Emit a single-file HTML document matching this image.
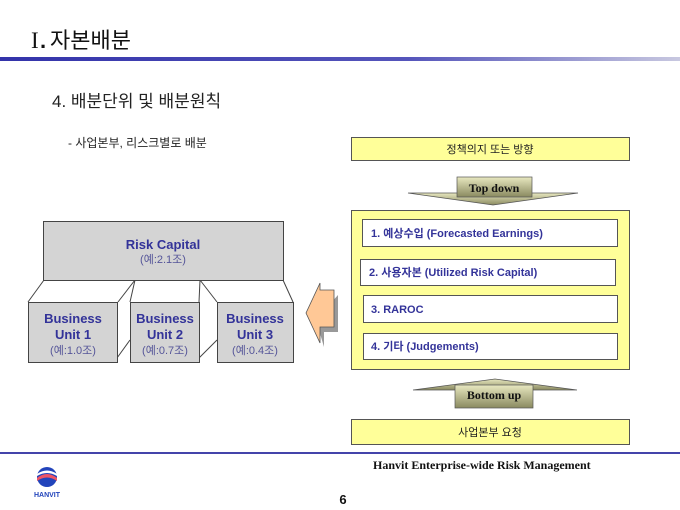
<!DOCTYPE html>
<html><head><meta charset="utf-8"><style>
html,body{margin:0;padding:0;background:#fff;width:680px;height:510px;overflow:hidden}
svg text{font-family:"Liberation Sans","Noto Sans CJK KR",sans-serif}
svg text.serif{font-family:"Liberation Serif",serif}
</style></head><body>
<svg width="680" height="510" viewBox="0 0 680 510" xmlns="http://www.w3.org/2000/svg">
<defs>
<linearGradient id="hl" x1="0" x2="1" y1="0" y2="0">
<stop offset="0" stop-color="#3333aa"/><stop offset="0.6" stop-color="#5555bb"/><stop offset="1" stop-color="#c8c8e0"/>
</linearGradient>
<linearGradient id="ag" x1="0" x2="0" y1="0" y2="1">
<stop offset="0" stop-color="#e8e8c0"/><stop offset="1" stop-color="#8a8a60"/>
</linearGradient>
</defs>
<text class="serif" x="31" y="48" font-size="23" fill="#111">I</text>
<text x="40" y="48" font-size="22" fill="#111" font-weight="bold">.</text>
<text x="50" y="48" font-size="22" fill="#111">자본배분</text>
<rect x="0" y="57" width="680" height="4" fill="url(#hl)"/>
<text x="52" y="107" font-size="17" fill="#222">4. 배분단위 및 배분원칙</text>
<text x="68" y="147" font-size="12" fill="#222">- 사업본부, 리스크별로 배분</text>

<g stroke="#444" stroke-width="1" fill="none">
<line x1="44" y1="280" x2="28" y2="302"/>
<line x1="135" y1="280" x2="130" y2="302"/>
<line x1="135" y1="280" x2="118" y2="302"/>
<line x1="200" y1="280" x2="217" y2="302"/>
<line x1="200" y1="280" x2="199" y2="302"/>
<line x1="283" y1="280" x2="293" y2="302"/>
<line x1="117" y1="358" x2="130" y2="340"/>
<line x1="199" y1="358" x2="217" y2="340"/>
</g>
<rect x="43.5" y="221.5" width="240" height="59" fill="#d4d4d4" stroke="#444"/>
<text x="163" y="249" font-size="13" font-weight="bold" fill="#333399" text-anchor="middle">Risk Capital</text>
<text x="163" y="263" font-size="11" fill="#555599" text-anchor="middle">(예:2.1조)</text>
<rect x="28.5" y="302.5" width="89" height="60" fill="#d4d4d4" stroke="#444"/>
<rect x="130.5" y="302.5" width="69" height="60" fill="#d4d4d4" stroke="#444"/>
<rect x="217.5" y="302.5" width="76" height="60" fill="#d4d4d4" stroke="#444"/>
<g font-size="13" font-weight="bold" fill="#333399" text-anchor="middle">
<text x="73" y="323">Business</text><text x="73" y="339">Unit 1</text>
<text x="165" y="323">Business</text><text x="165" y="339">Unit 2</text>
<text x="255" y="323">Business</text><text x="255" y="339">Unit 3</text>
</g>
<g font-size="11" fill="#555599" text-anchor="middle">
<text x="73" y="354">(예:1.0조)</text><text x="165" y="354">(예:0.7조)</text><text x="255" y="354">(예:0.4조)</text>
</g>
<polygon points="338,295 338,332 324,332 324,347 316,320" fill="#999"/>
<polygon points="334,290 334,327 320,327 320,343 306,313 320,283 320,290" fill="#ffc896" stroke="#555" stroke-width="0.8"/>

<rect x="351.5" y="137.5" width="278" height="23" fill="#ffff99" stroke="#555"/>
<text x="490" y="153" font-size="11" fill="#222" text-anchor="middle">정책의지 또는 방향</text>
<polygon points="408,193 578,193 493,205" fill="url(#ag)" stroke="#555" stroke-width="0.7"/>
<rect x="457" y="177" width="75" height="20" fill="url(#ag)" stroke="#555" stroke-width="0.7"/>
<text class="serif" x="494" y="192" font-size="12" font-weight="bold" fill="#111" text-anchor="middle">Top down</text>

<rect x="351.5" y="210.5" width="278" height="159" fill="#ffff99" stroke="#555"/>
<g fill="#fff" stroke="#555">
<rect x="362.5" y="219.5" width="255" height="27"/>
<rect x="360.5" y="259.5" width="255" height="26"/>
<rect x="363.5" y="295.5" width="254" height="27"/>
<rect x="363.5" y="333.5" width="254" height="26"/>
</g>
<g font-size="11" font-weight="bold" fill="#333399">
<text x="371" y="237">1. 예상수입 (Forecasted Earnings)</text>
<text x="369" y="276">2. 사용자본 (Utilized Risk Capital)</text>
<text x="371" y="313">3. RAROC</text>
<text x="371" y="350">4. 기타 (Judgements)</text>
</g>
<polygon points="413,390 577,390 495,379" fill="url(#ag)" stroke="#555" stroke-width="0.7"/>
<rect x="455" y="385" width="78" height="23" fill="url(#ag)" stroke="#555" stroke-width="0.7"/>
<text class="serif" x="494" y="399" font-size="12" font-weight="bold" fill="#111" text-anchor="middle">Bottom up</text>
<rect x="351.5" y="419.5" width="278" height="25" fill="#ffff99" stroke="#555"/>
<text x="490" y="436" font-size="11" fill="#222" text-anchor="middle">사업본부 요청</text>

<rect x="0" y="452" width="680" height="2" fill="#4444aa"/>
<text class="serif" x="373" y="469" font-size="12" font-weight="bold" fill="#111">Hanvit Enterprise-wide Risk Management</text>
<text x="343" y="504" font-size="13" font-weight="bold" fill="#111" text-anchor="middle">6</text>
<ellipse cx="47" cy="477" rx="10" ry="10" fill="#2244bb"/>
<path d="M37,478 Q47,470 57,478 L57,481 Q47,474 37,481Z" fill="#ee5566"/>
<path d="M37,474 Q47,467 57,474 L57,476 Q47,470 37,476Z" fill="#fff"/>
<text x="47" y="497" font-size="7" font-weight="bold" fill="#2244bb" text-anchor="middle">HANVIT</text>
</svg>
</body></html>
